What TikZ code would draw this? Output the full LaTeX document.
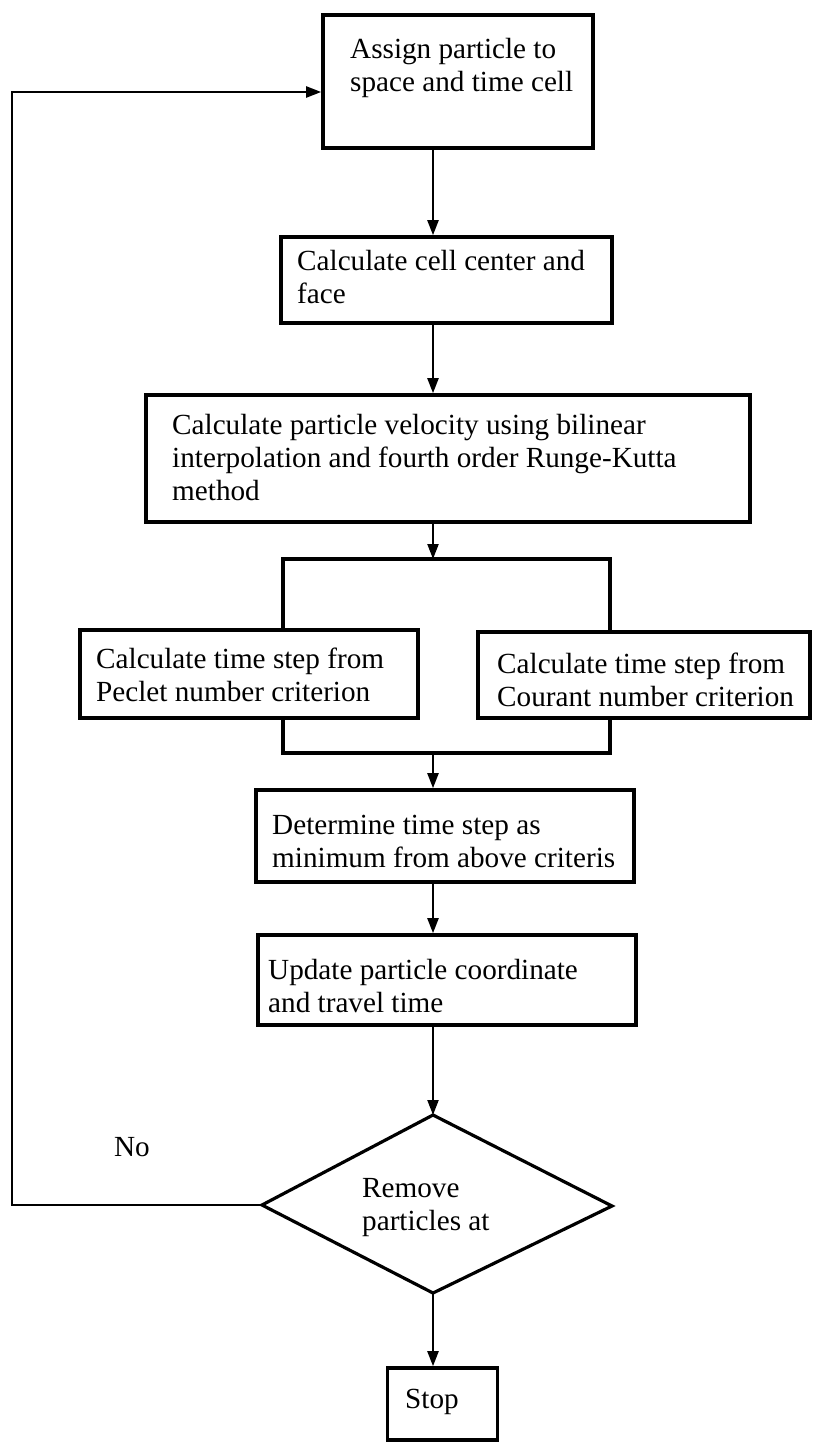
\documentclass[tikz,border=0pt]{standalone}
\usepackage{fontspec}
\setmainfont{Liberation Serif}
\usetikzlibrary{arrows.meta}
\begin{document}
\begin{tikzpicture}[x=1pt,y=-1pt,
  box/.style={draw=black,line width=3.6pt,inner sep=0pt,fill=none},
  txt/.style={anchor=west,align=left,inner sep=0pt,font=\fontsize{29.2}{33}\selectfont},
  conn/.style={draw=black,line width=2.2pt},
  arr/.style={conn,-{Triangle[length=15pt,width=11pt]}}]
\useasboundingbox (0,0) rectangle (829,1453);
\fill[white] (0,0) rectangle (829,1453);
\coordinate (sp) at (433,0);
% boxes
\node[box,minimum width=270,minimum height=133] (b1) at (458,81.5) {};
\node[txt] (t1) at (350,68) {Assign particle to\\space and time cell};
\node[box,minimum width=331,minimum height=86] (b2) at (446.5,280) {};
\node[txt] (t2) at (297,277) {Calculate cell center and\\face};
\node[box,minimum width=604,minimum height=127] (b3) at (448,458.5) {};
\node[txt] (t3) at (172,458) {Calculate particle velocity using bilinear\\interpolation and fourth order Runge-Kutta\\method};
\node[box,minimum width=338,minimum height=88] (pe) at (249,674) {};
\node[txt] (tpe) at (96,675) {Calculate time step from\\Peclet number criterion};
\node[box,minimum width=332,minimum height=86] (co) at (644,675) {};
\node[txt] (tco) at (497,680) {Calculate time step from\\Courant number criterion};
\node[box,minimum width=378,minimum height=92] (b4) at (445,836) {};
\node[txt] (t4) at (272,841) {Determine time step as\\minimum from above criteris};
\node[box,minimum width=378,minimum height=90] (b5) at (447,980) {};
\node[txt] (t5) at (268,986) {Update particle coordinate\\and travel time};
% diamond
\coordinate (dt) at (433,1115);
\coordinate (dl) at (262,1205);
\coordinate (db) at (433,1293);
\coordinate (dr) at (612,1206);
\draw[black,line width=3.2pt,line join=miter] (dt) -- (dr) -- (db) -- (dl) -- cycle;
\node[txt] (td) at (362,1208) {Remove\\particles at};
\node[box,minimum width=110,minimum height=72] (st) at (442.5,1404) {};
\node[txt,anchor=center] (tst) at (432,1402) {Stop};
\node[txt,anchor=center] (no) at (132,1147) {No};
% split bars
\coordinate (sl) at (283,559);
\coordinate (sr) at (610,559);
\coordinate (jl) at (283,753);
\coordinate (jr) at (610,753);
\draw[conn,line width=3.2pt] (pe.north -| sl) -- (sl) -- (sr) -- (co.north -| sr);
\draw[conn,line width=3.2pt] (pe.south -| jl) -- (jl) -- (jr) -- (co.south -| jr);
% connectors
\draw[arr] (b1.south -| sp) -- (b2.north -| sp);
\draw[arr] (b2.south -| sp) -- (b3.north -| sp);
\draw[arr] (b3.south -| sp) -- (sl -| sp);
\draw[arr] (jl -| sp) -- (b4.north -| sp);
\draw[arr] (b4.south -| sp) -- (b5.north -| sp);
\draw[arr] (b5.south -| sp) -- (dt);
\draw[arr] (db) -- (st.north -| sp);
\coordinate (fl) at (12,1205);
\coordinate (fu) at (12,92);
\draw[arr] (dl) -- (fl) -- (fu) -- (b1.west |- fu);
\end{tikzpicture}
\end{document}
